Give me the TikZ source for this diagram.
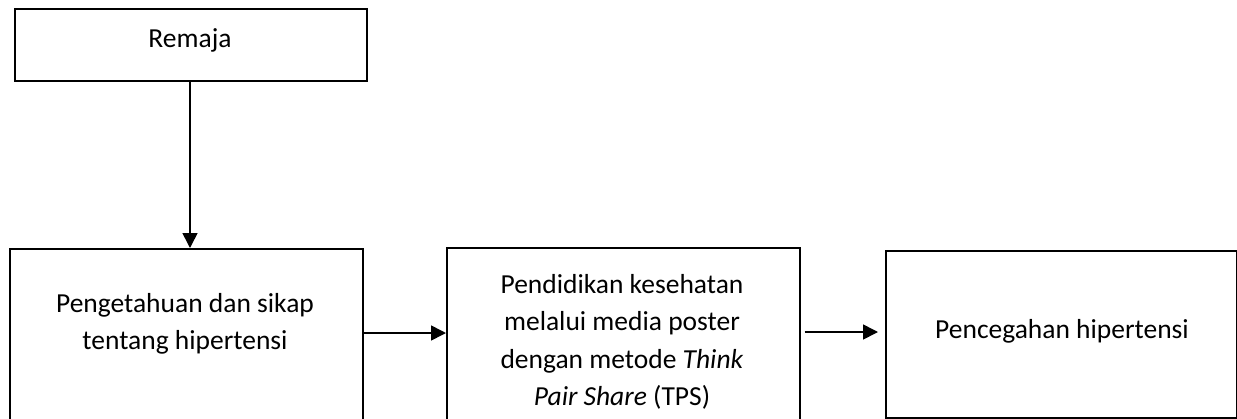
\documentclass[tikz,border=0pt]{standalone}
\usepackage{fontspec}
\setmainfont{Carlito}
\usetikzlibrary{arrows.meta}
\begin{document}
\begin{tikzpicture}[x=1pt,y=-1pt,
  boxed/.style={draw=black,line width=1.6pt,rectangle,inner sep=0pt,anchor=north west},
  lbl/.style={font=\fontsize{27.5}{37.5}\selectfont,align=center,inner sep=0pt},
  arr/.style={line width=1.6pt,-{Triangle[length=15pt,width=15pt]}}]
\useasboundingbox (0,0) rectangle (1237,418);
\clip (0,0) rectangle (1237,418);
\node[boxed,minimum width=352pt,minimum height=72pt] (remaja) at (14,8) {};
\node[boxed,minimum width=353pt,minimum height=190pt] (b1) at (9,248) {};
\node[boxed,minimum width=353pt,minimum height=190pt] (b2) at (446,247) {};
\node[boxed,minimum width=351pt,minimum height=167pt] (b3) at (885,250) {};
\node[lbl] (t0) at (190,40) {Remaja};
\node[lbl] (t1) at (185,324) {Pengetahuan dan sikap\\tentang hipertensi};
\node[lbl] (t2) at (622,342) {Pendidikan kesehatan\\melalui media poster\\dengan metode \textit{Think}\\\textit{Pair Share} (TPS)};
\node[lbl] (t3) at (1062,331) {Pencegahan hipertensi};
\coordinate (c0) at (190,0);
\coordinate (c1) at (0,333);
\coordinate (c2) at (0,332);
\draw[arr] (remaja.south -| c0) -- (b1.north -| c0);
\draw[arr] (b1.east |- c1) -- (b2.west |- c1);
\draw[arr] ([xshift=4pt]b2.east |- c2) -- ([xshift=-7pt]b3.west |- c2);
\end{tikzpicture}
\end{document}
